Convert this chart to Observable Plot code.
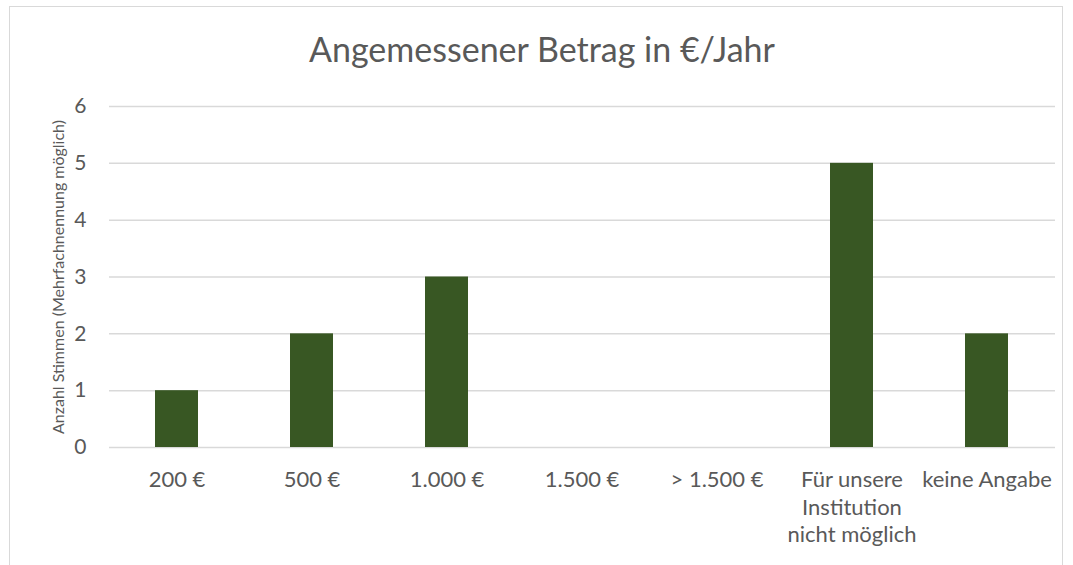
<!DOCTYPE html>
<html>
<head>
<meta charset="utf-8">
<script src="https://cdn.jsdelivr.net/npm/d3@7"></script>
<script src="https://cdn.jsdelivr.net/npm/@observablehq/plot@0.6"></script>
<style>
  html, body { margin: 0; padding: 0; background: #fff; overflow: hidden; }
  #frame {
    position: absolute; left: 9px; top: 6px; width: 1054px; height: 620px;
    border: 1px solid #d9d9d9; box-sizing: border-box; background: #fff;
  }
  #title {
    height: 70px; text-align: center; padding-left: 12px; box-sizing: border-box;
    font-family: Lato, sans-serif; font-size: 34px; color: #595959;
    padding-top: 25px; line-height: 1;
  }
  #chart svg { display: block; }
</style>
</head>
<body>
<div id="frame">
  <div id="title">Angemessener Betrag in €/Jahr</div>
  <div id="chart"></div>
</div>
<script>
const categories = ["200 €", "500 €", "1.000 €", "1.500 €", "> 1.500 €", "Für unsere\nInstitution\nnicht möglich", "keine Angabe"];
const values = [1, 2, 3, 0, 0, 5, 2];
const yTicks = [0, 1, 2, 3, 4, 5, 6];
const yLabel = "Anzahl Stimmen (Mehrfachnennung möglich)";

const data = categories.map((c, i) => ({category: c, value: values[i]}));

const chart = Plot.plot({
  width: 1052,
  height: 490,
  marginTop: 29,
  marginLeft: 99,
  marginRight: 7,
  marginBottom: 120,
  style: {fontFamily: "Lato, sans-serif", color: "#595959", background: "#fff"},
  x: {domain: categories, paddingInner: 0.68, paddingOuter: 0.34, label: null},
  y: {domain: [0, 6], label: null},
  marks: [
    Plot.gridY(yTicks, {stroke: "#d9d9d9", strokeOpacity: 1, strokeWidth: 1.5}),
    Plot.barY(data, {x: "category", y: "value", fill: "#385723"}),
    Plot.axisY(yTicks, {tickSize: 0, tickPadding: 23, fontSize: 21, fill: "#595959", tickFormat: "d", label: null}),
    Plot.axisX({tickSize: 0, tickPadding: 20, fontSize: 22, fill: "#595959", lineHeight: 1.25, label: null}),
    Plot.text([yLabel], {frameAnchor: "left", textAnchor: "middle", rotate: -90, dx: -51, dy: 0, fontSize: 16, fill: "#595959", text: d => d})
  ]
});
document.getElementById("chart").appendChild(chart);
</script>
</body>
</html>
